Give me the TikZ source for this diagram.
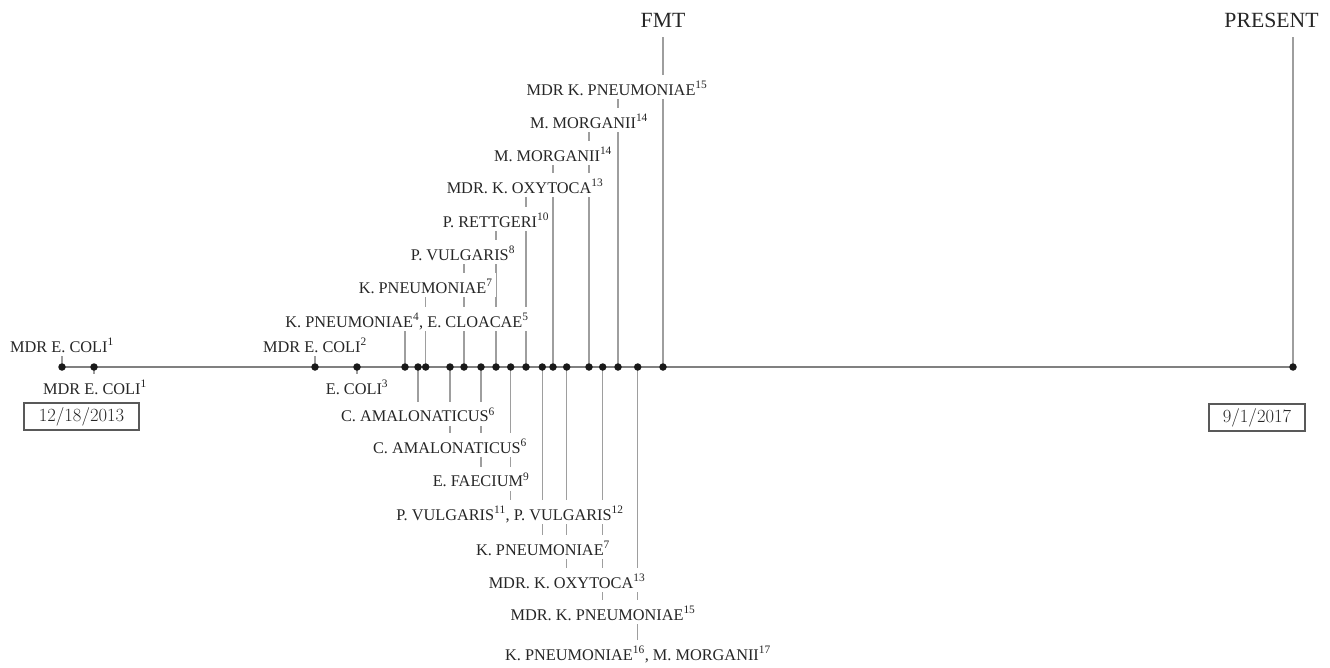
\documentclass[tikz,border=0pt]{standalone}
\usepackage{fontspec}
\newfontfamily\lab{Liberation Serif}
\usetikzlibrary{backgrounds}
\begin{document}
\begin{tikzpicture}[x=1pt,y=-1pt,
  dot/.style={circle,fill=black!90,inner sep=0pt,minimum size=7.5pt},
  lbl/.style={fill=white,inner xsep=3pt,inner ysep=3pt,text height=17pt,text depth=1pt,anchor=base,font=\lab\fontsize{16.3}{18}\selectfont,text=black!85},
  big/.style={fill=white,inner xsep=3pt,inner ysep=5pt,text height=16pt,text depth=5pt,anchor=base,font=\lab\fontsize{21.7}{24}\selectfont,text=black!85},
  conn/.style={draw=black!38,line width=1.1pt},
  axis/.style={draw=black!50,line width=1.5pt},
  datebox/.style={draw=black!65,line width=1.3pt,inner sep=0pt,font=\fontsize{18.6}{20}\selectfont,text=black!85}]
\useasboundingbox (0,0) rectangle (1330,667);

% dots on the time axis
\node[dot] (p1) at (62,367) {};
\node[dot] (p2) at (94,367) {};
\node[dot] (p3) at (315,367) {};
\node[dot] (p4) at (357,367) {};
\node[dot] (p5) at (405,367) {};
\node[dot] (p6) at (418,367) {};
\node[dot] (p7) at (425.7,367) {};
\node[dot] (p8) at (450,367) {};
\node[dot] (p9) at (464,367) {};
\node[dot] (p10) at (481,367) {};
\node[dot] (p11) at (496,367) {};
\node[dot] (p12) at (510.7,367) {};
\node[dot] (p13) at (526,367) {};
\node[dot] (p14) at (542.3,367) {};
\node[dot] (p15) at (553,367) {};
\node[dot] (p16) at (566.7,367) {};
\node[dot] (p17) at (589,367) {};
\node[dot] (p18) at (602.7,367) {};
\node[dot] (p19) at (618,367) {};
\node[dot] (p20) at (637.7,367) {};
\node[dot] (p21) at (663,367) {};
\node[dot] (p22) at (1293,367) {};

% labels above
\node[lbl] (a1) at (62,352) {MDR E. COLI\textsuperscript{1}};
\node[lbl] (a3) at (315,352) {MDR E. COLI\textsuperscript{2}};
\node[lbl] (a5) at (407,327) {K. PNEUMONIAE\textsuperscript{4}, E. CLOACAE\textsuperscript{5}};
\node[lbl] (a7) at (425.7,293) {K. PNEUMONIAE\textsuperscript{7}};
\node[lbl] (a9) at (463,260) {P. VULGARIS\textsuperscript{8}};
\node[lbl] (a11) at (496,227) {P. RETTGERI\textsuperscript{10}};
\node[lbl] (a13) at (525,193) {MDR. K. OXYTOCA\textsuperscript{13}};
\node[lbl] (a15) at (553,161) {M. MORGANII\textsuperscript{14}};
\node[lbl] (a17) at (589,128) {M. MORGANII\textsuperscript{14}};
\node[lbl] (a19) at (617,95) {MDR K. PNEUMONIAE\textsuperscript{15}};
\node[big] (fmt) at (663,27) {FMT};
\node[big] (present) at (1271.5,27) {PRESENT};

% labels below
\node[lbl] (b2) at (95,394) {MDR E. COLI\textsuperscript{1}};
\node[lbl] (b4) at (357,394) {E. COLI\textsuperscript{3}};
\node[lbl] (b6) at (418,421.7) {C. AMALONATICUS\textsuperscript{6}};
\node[lbl] (b8) at (450,453) {C. AMALONATICUS\textsuperscript{6}};
\node[lbl] (b10) at (481,486.7) {E. FAECIUM\textsuperscript{9}};
\node[lbl] (b12) at (510,520) {P. VULGARIS\textsuperscript{11}, P. VULGARIS\textsuperscript{12}};
\node[lbl] (b14) at (543,555) {K. PNEUMONIAE\textsuperscript{7}};
\node[lbl] (b16) at (567,588) {MDR. K. OXYTOCA\textsuperscript{13}};
\node[lbl] (b18) at (603,620) {MDR. K. PNEUMONIAE\textsuperscript{15}};
\node[lbl] (b20) at (638,660) {K. PNEUMONIAE\textsuperscript{16}, M. MORGANII\textsuperscript{17}};

% date boxes
\node[datebox,minimum width=115pt,minimum height=27pt] (start) at (81.5,416.5) {12/18/2013};
\node[datebox,minimum width=96pt,minimum height=27pt] (end) at (1257,417.5) {9/1/2017};

\begin{scope}[on background layer]
\draw[axis] (p1.center) -- (p22.center);
% connectors up
\foreach \d/\l in {p1/a1,p3/a3,p5/a5,p7/a7,p9/a9,p11/a11,p13/a13,p15/a15,p17/a17,p19/a19,p21/fmt,p22/present}
  \draw[conn] (\d.center) -- (\d.center |- \l.south);
% connectors down
\foreach \d/\l in {p2/b2,p4/b4,p6/b6,p8/b8,p10/b10,p12/b12,p14/b14,p16/b16,p18/b18,p20/b20}
  \draw[conn] (\d.center) -- (\d.center |- \l.north);
\end{scope}
\end{tikzpicture}
\end{document}
